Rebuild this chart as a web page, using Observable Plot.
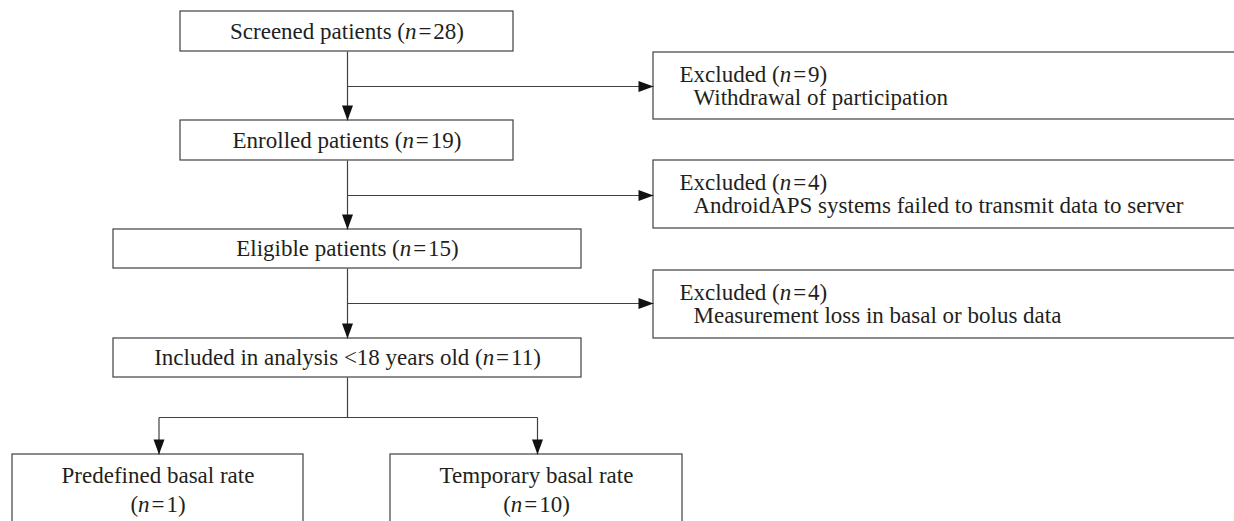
<!DOCTYPE html>
<html>
<head>
<meta charset="utf-8">
<script src="https://cdn.jsdelivr.net/npm/d3@7"></script>
<script src="https://cdn.jsdelivr.net/npm/@observablehq/plot@0.6"></script>
<style>
  html, body { margin: 0; padding: 0; background: #ffffff; }
  #chart svg { display: block; }
</style>
</head>
<body>
<div id="chart"></div>
<script>
// ---- Data ----
const stages = ["Screened patients", "Enrolled patients", "Eligible patients", "Included in analysis <18 years old"];
const stageN = [28, 19, 15, 11];
const excludedLabel = ["Excluded", "Excluded", "Excluded"];
const excludedN = [9, 4, 4];
const excludedReasons = [
  "Withdrawal of participation",
  "AndroidAPS systems failed to transmit data to server",
  "Measurement loss in basal or bolus data"
];
const groups = ["Predefined basal rate", "Temporary basal rate"];
const groupN = [1, 10];

// ---- Layout (diagram geometry, in pixel units of the 1234x521 canvas) ----
const W = 1234, H = 521;
const spineX = 347;
const stageBoxes = [
  {x1: 180, x2: 513, y1: 11,  y2: 51},
  {x1: 180, x2: 513, y1: 120, y2: 160},
  {x1: 113, x2: 581, y1: 229, y2: 268},
  {x1: 113, x2: 581, y1: 338, y2: 377}
];
const exclBoxes = [
  {x1: 653, x2: 1260, y1: 52,  y2: 119},
  {x1: 653, x2: 1260, y1: 160, y2: 228},
  {x1: 653, x2: 1260, y1: 270, y2: 338}
];
const groupBoxes = [
  {x1: 12,  x2: 303, y1: 454, y2: 560},
  {x1: 390, x2: 682, y1: 454, y2: 560}
];
const branchY = 417;
const exclArrowY = [86, 195, 303];

const nStr = n => `(n\u200A=\u200A${n})`;

const boxes = [...stageBoxes, ...exclBoxes, ...groupBoxes];

const stageText = stages.map((s, i) => ({
  x: (stageBoxes[i].x1 + stageBoxes[i].x2) / 2,
  y: (stageBoxes[i].y1 + stageBoxes[i].y2) / 2,
  t: `${s} ${nStr(stageN[i])}`
}));
const exclText = [];
excludedN.forEach((n, i) => {
  const b = exclBoxes[i];
  const cy = (b.y1 + b.y2) / 2;
  exclText.push({x: b.x1 + 26, y: cy - 11.5, t: `${excludedLabel[i]} ${nStr(n)}`});
  exclText.push({x: b.x1 + 40, y: cy + 11.5, t: excludedReasons[i]});
});
const groupText = [];
groups.forEach((g, i) => {
  const b = groupBoxes[i];
  const cx = (b.x1 + b.x2) / 2;
  groupText.push({x: cx, y: b.y1 + 21, t: g});
  groupText.push({x: cx, y: b.y1 + 50, t: nStr(groupN[i])});
});

const segs = [];
for (let i = 0; i < stageBoxes.length - 1; i++) {
  segs.push({x1: spineX, y1: stageBoxes[i].y2, x2: spineX, y2: stageBoxes[i + 1].y1});
  segs.push({x1: spineX, y1: exclArrowY[i], x2: exclBoxes[i].x1, y2: exclArrowY[i]});
}
const gx = groupBoxes.map(b => (b.x1 + b.x2) / 2 + 1);
segs.push({x1: spineX, y1: stageBoxes[3].y2, x2: spineX, y2: branchY});
segs.push({x1: gx[0], y1: branchY, x2: gx[1], y2: branchY});
gx.forEach(x => segs.push({x1: x, y1: branchY, x2: x, y2: groupBoxes[0].y1}));

const heads = [];
for (let i = 0; i < stageBoxes.length - 1; i++) {
  heads.push({x: spineX, y: stageBoxes[i + 1].y1, r: 90});
  heads.push({x: exclBoxes[i].x1, y: exclArrowY[i], r: 0});
}
gx.forEach(x => heads.push({x, y: groupBoxes[0].y1, r: 90}));

const headSymbol = {
  draw(ctx, size) {
    ctx.moveTo(0, 0);
    ctx.lineTo(-15, -5.5);
    ctx.lineTo(-15, 5.5);
    ctx.closePath();
  }
};

const ink = "#231f20";
const lineCol = "#404040";
const font = "'Liberation Serif', 'DejaVu Serif', serif";
const fs = 23;

const chart = Plot.plot({
  width: W,
  height: H,
  margin: 0,
  x: {domain: [0, W], range: [0, W], axis: null},
  y: {domain: [0, H], range: [0, H], axis: null},
  style: {fontFamily: font, background: "#ffffff", overflow: "hidden"},
  marks: [
    Plot.rect(boxes, {x1: "x1", x2: "x2", y1: "y1", y2: "y2", fill: "#ffffff", stroke: lineCol, strokeWidth: 1.2}),
    Plot.link(segs, {x1: "x1", y1: "y1", x2: "x2", y2: "y2", stroke: lineCol, strokeWidth: 1.2}),
    Plot.dot(heads, {x: "x", y: "y", rotate: "r", symbol: headSymbol, fill: "#111111", stroke: "none"}),
    Plot.text(stageText, {x: "x", y: "y", text: "t", fill: ink, fontSize: fs, textAnchor: "middle"}),
    Plot.text(exclText, {x: "x", y: "y", text: "t", fill: ink, fontSize: fs, textAnchor: "start"}),
    Plot.text(groupText, {x: "x", y: "y", text: "t", fill: ink, fontSize: fs, textAnchor: "middle"})
  ]
});

// italicise the statistical symbol "n"
chart.querySelectorAll("text").forEach(el => {
  const s = el.textContent;
  const k = s.indexOf("(n");
  if (k < 0) return;
  while (el.firstChild) el.removeChild(el.firstChild);
  el.appendChild(document.createTextNode(s.slice(0, k + 1)));
  const ts = document.createElementNS("http://www.w3.org/2000/svg", "tspan");
  ts.setAttribute("font-style", "italic");
  ts.textContent = "n";
  el.appendChild(ts);
  el.appendChild(document.createTextNode(s.slice(k + 2)));
});

document.getElementById("chart").appendChild(chart);
</script>
</body>
</html>
